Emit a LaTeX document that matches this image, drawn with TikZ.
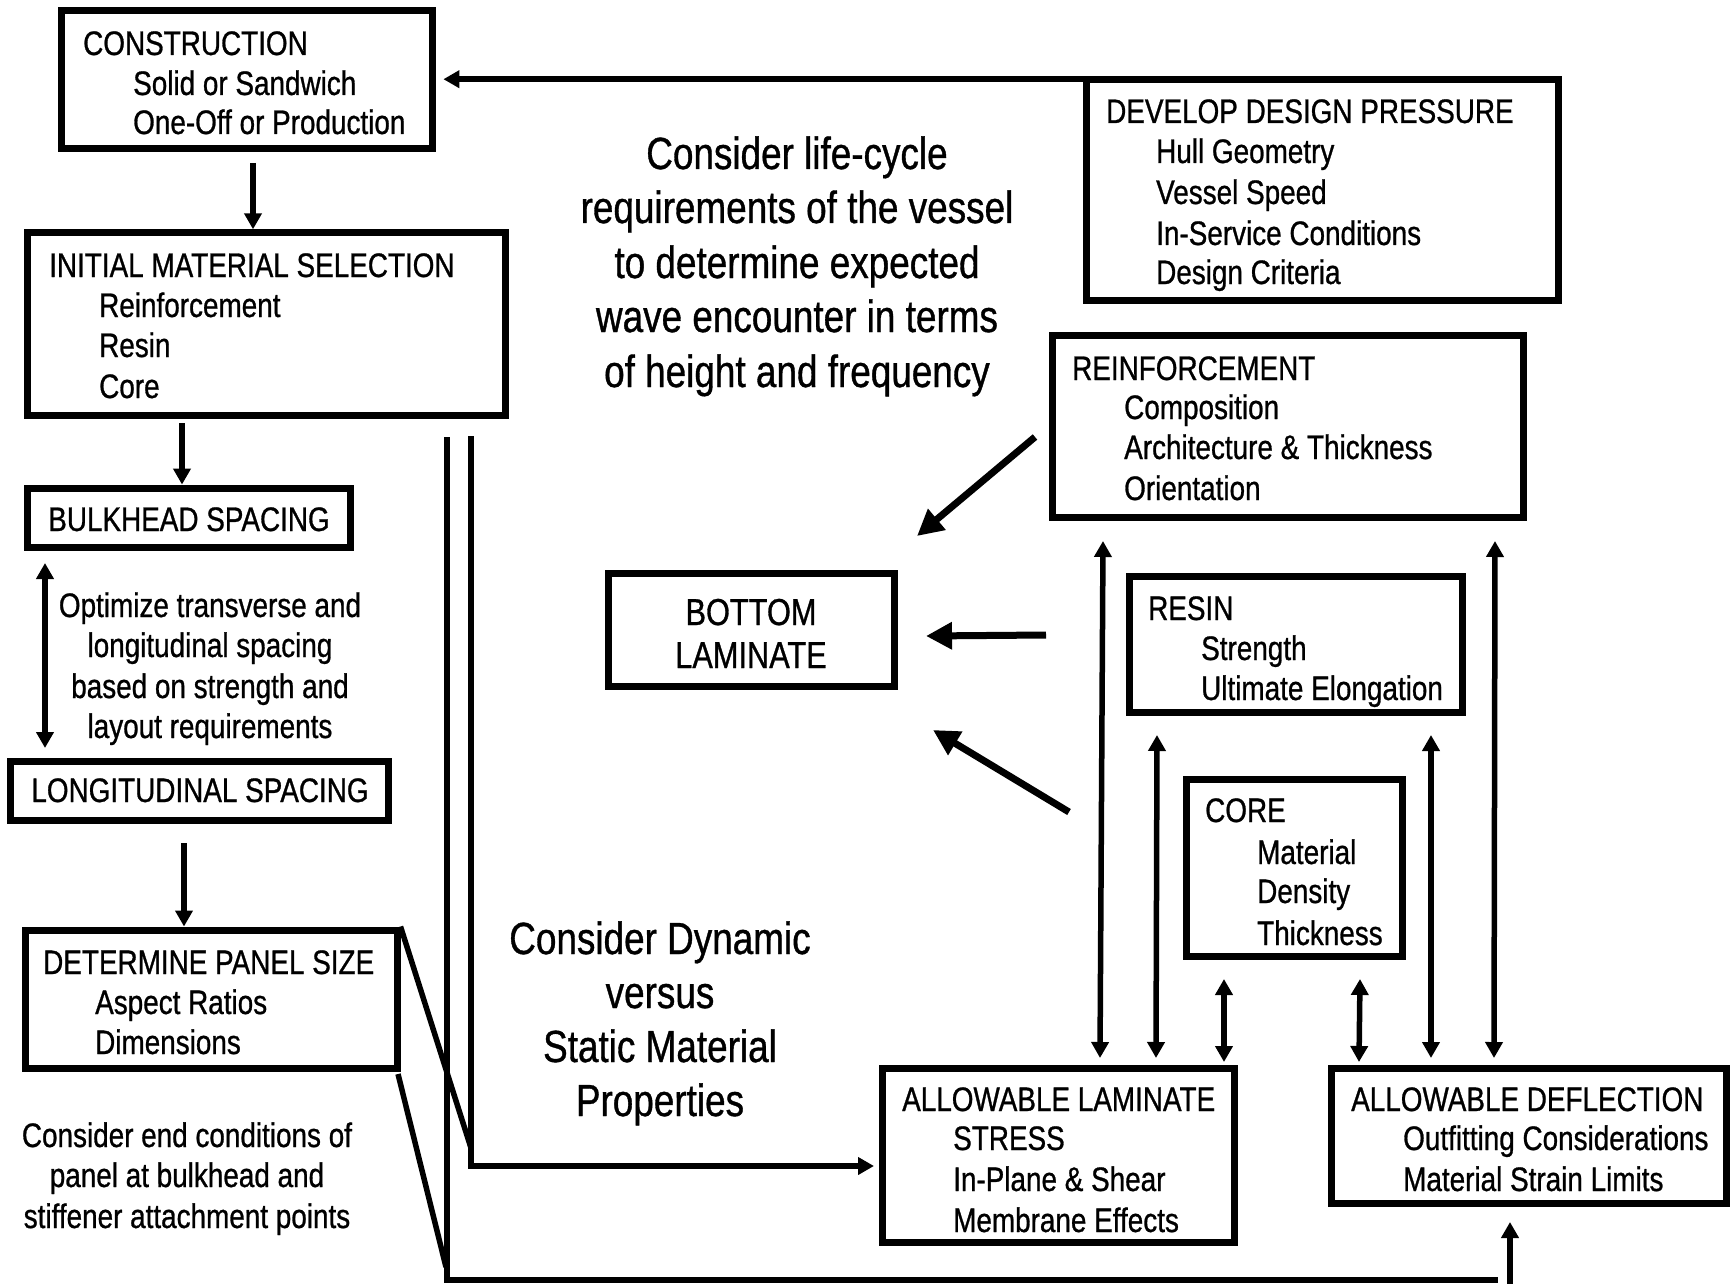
\documentclass[tikz,border=0pt]{standalone}
\usepackage{fontspec}
\setmainfont{Liberation Sans}[FakeStretch=0.82,FakeBold=0.8]
\usetikzlibrary{arrows.meta,calc}

\tikzset{
  box/.style={draw, line width=7pt, inner sep=0pt, rectangle},
  wire/.style={line width=5.5pt},
  arr/.style={wire, -{Triangle[length=16pt,width=17pt]}},
  darr/.style={wire, {Triangle[length=16pt,width=17pt]}-{Triangle[length=16pt,width=17pt]}},
  bigarr/.style={line width=7pt, -{Triangle[length=26pt,width=26pt]}},
  txt/.style={anchor=base west, inner sep=0pt, font=\fontsize{34}{40}\selectfont},
  ctxt/.style={anchor=base, inner sep=0pt, font=\fontsize{34}{40}\selectfont},
  mtxt/.style={anchor=base, inner sep=0pt, font=\fontsize{37.5}{43}\selectfont},
  note/.style={anchor=base, inner sep=0pt, font=\fontsize{45}{54}\selectfont},
}

\begin{document}
\begin{tikzpicture}[x=1pt,y=-1pt]
\useasboundingbox (0,0) rectangle (1730,1284);

% ---------- boxes ----------
\node[box, minimum width=371pt, minimum height=138pt] (cons)    at (247.4,79.2)  {};
\node[box, minimum width=478pt, minimum height=183pt] (init)    at (266.7,324.3) {};
\node[box, minimum width=323pt, minimum height=59.5pt] (bulk)   at (189,517.8)   {};
\node[box, minimum width=378pt, minimum height=58.5pt] (longi)  at (199.5,790.8) {};
\node[box, minimum width=372pt, minimum height=138pt] (panel)   at (211,999)     {};
\node[box, minimum width=472pt, minimum height=221.5pt] (develop) at (1322,189.8) {};
\node[box, minimum width=471.5pt, minimum height=182pt] (reinf) at (1288,426)    {};
\node[box, minimum width=286pt, minimum height=112.5pt] (bottom) at (751,629.8)  {};
\node[box, minimum width=333pt, minimum height=136pt] (resin)   at (1295.5,644)  {};
\node[box, minimum width=216pt, minimum height=177pt] (core)    at (1294,867.5)  {};
\node[box, minimum width=352pt, minimum height=174pt] (als)     at (1058,1155)   {};
\node[box, minimum width=395pt, minimum height=135pt] (defl)    at (1528.5,1135.5) {};

% ---------- box texts ----------
\node[txt] (cons-t) at (83,55)  {CONSTRUCTION};
\node[txt] (cons-1) at (133,95) {Solid or Sandwich};
\node[txt] (cons-2) at (133,134) {One-Off or Production};

\node[txt] (init-t) at (49,277) {INITIAL MATERIAL SELECTION};
\node[txt] (init-1) at (99,317) {Reinforcement};
\node[txt] (init-2) at (99,357) {Resin};
\node[txt] (init-3) at (99,398) {Core};

\node[ctxt] (bulk-t) at (189,531) {BULKHEAD SPACING};
\node[ctxt] (longi-t) at (200,802) {LONGITUDINAL SPACING};

\node[txt] (panel-t) at (43,974)  {DETERMINE PANEL SIZE};
\node[txt] (panel-1) at (95,1014) {Aspect Ratios};
\node[txt] (panel-2) at (95,1054) {Dimensions};

\node[txt] (dev-t) at (1106,123) {DEVELOP DESIGN PRESSURE};
\node[txt] (dev-1) at (1156,163) {Hull Geometry};
\node[txt] (dev-2) at (1156,204) {Vessel Speed};
\node[txt] (dev-3) at (1156,245) {In-Service Conditions};
\node[txt] (dev-4) at (1156,284) {Design Criteria};

\node[txt] (reinf-t) at (1072,380) {REINFORCEMENT};
\node[txt] (reinf-1) at (1124,419) {Composition};
\node[txt] (reinf-2) at (1124,459) {Architecture \& Thickness};
\node[txt] (reinf-3) at (1124,500) {Orientation};

\node[mtxt] (bottom-1) at (751,625) {BOTTOM};
\node[mtxt] (bottom-2) at (751,668) {LAMINATE};

\node[txt] (resin-t) at (1148,620) {RESIN};
\node[txt] (resin-1) at (1201,660) {Strength};
\node[txt] (resin-2) at (1201,700) {Ultimate Elongation};

\node[txt] (core-t) at (1205,822) {CORE};
\node[txt] (core-1) at (1257,864) {Material};
\node[txt] (core-2) at (1257,903) {Density};
\node[txt] (core-3) at (1257,945) {Thickness};

\node[txt] (als-t) at (902,1111) {ALLOWABLE LAMINATE};
\node[txt] (als-1) at (953,1150) {STRESS};
\node[txt] (als-2) at (953,1191) {In-Plane \& Shear};
\node[txt] (als-3) at (953,1232) {Membrane Effects};

\node[txt] (defl-t) at (1351,1111) {ALLOWABLE DEFLECTION};
\node[txt] (defl-1) at (1403,1150) {Outfitting Considerations};
\node[txt] (defl-2) at (1403,1191) {Material Strain Limits};

% ---------- free notes ----------
\node[ctxt] (opt-1) at (210,617) {Optimize transverse and};
\node[ctxt] (opt-2) at (210,657) {longitudinal spacing};
\node[ctxt] (opt-3) at (210,698) {based on strength and};
\node[ctxt] (opt-4) at (210,738) {layout requirements};

\node[ctxt] (end-1) at (187,1147) {Consider end conditions of};
\node[ctxt] (end-2) at (187,1187) {panel at bulkhead and};
\node[ctxt] (end-3) at (187,1228) {stiffener attachment points};

\node[note] (life-1) at (797,169) {Consider life-cycle};
\node[note] (life-2) at (797,223) {requirements of the vessel};
\node[note] (life-3) at (797,278) {to determine expected};
\node[note] (life-4) at (797,332) {wave encounter in terms};
\node[note] (life-5) at (797,387) {of height and frequency};

\node[note] (dyn-1) at (660,954)  {Consider Dynamic};
\node[note] (dyn-2) at (660,1008) {versus};
\node[note] (dyn-3) at (660,1062) {Static Material};
\node[note] (dyn-4) at (660,1116) {Properties};

% ---------- connectors, left column ----------
\coordinate (a1) at (253,163);
\draw[arr] (a1) -- (a1 |- init.north);
\draw[arr] (develop.north west |- cons.east) -- ([xshift=7pt]cons.east);
\coordinate (a2) at (182,423);
\draw[arr] (a2) -- (a2 |- bulk.north);
\coordinate (a3s) at (45,563);
\coordinate (a3e) at (45,748);
\draw[darr] (a3s) -- (a3e);
\coordinate (a4) at (184,843);
\draw[arr] (a4) -- (a4 |- panel.north);

% ---------- bracket lines from the panel box ----------
\coordinate (l1) at (447,437);
\coordinate (l2) at (471,436);
\coordinate (l1c) at (447,1280);
\coordinate (l1e) at (1498,1280);
\coordinate (l2e) at (874,1166);
\draw[wire] (l1) -- (l1c) -- (l1e);
\draw[arr] (l2) |- (l2e);
\coordinate (d1e) at (471,1148);
\draw[wire] (panel.north east) -- (d1e);
\coordinate (d2s) at (398,1074);
\coordinate (d2e) at (446,1267);
\draw[wire] (d2s) -- (d2e);
\coordinate (u1s) at (1510,1284);
\coordinate (u1e) at (1510,1222);
\draw[arr] (u1s) -- (u1e);

% ---------- arrows into the bottom laminate ----------
\coordinate (b1s) at (1035,437);
\coordinate (b1e) at (917,536);
\coordinate (b2s) at (1046,635);
\coordinate (b2e) at (926,636);
\coordinate (b3s) at (1069,812);
\coordinate (b3e) at (933,730);
\draw[bigarr] (b1s) -- (b1e);
\draw[bigarr] (b2s) -- (b2e);
\draw[bigarr] (b3s) -- (b3e);

% ---------- material boxes to allowables ----------
\coordinate (va1) at (1103,541);  \coordinate (va2) at (1100,1058);
\coordinate (vb1) at (1157,735);  \coordinate (vb2) at (1156,1058);
\coordinate (vc1) at (1224,979);  \coordinate (vc2) at (1224,1062);
\coordinate (vd1) at (1360,979);  \coordinate (vd2) at (1359,1062);
\coordinate (ve1) at (1431,735);  \coordinate (ve2) at (1431,1058);
\coordinate (vf1) at (1495,541);  \coordinate (vf2) at (1494,1058);
\draw[darr] (va1) -- (va2);
\draw[darr] (vb1) -- (vb2);
\draw[darr] (vc1) -- (vc2);
\draw[darr] (vd1) -- (vd2);
\draw[darr] (ve1) -- (ve2);
\draw[darr] (vf1) -- (vf2);

\end{tikzpicture}
\end{document}
